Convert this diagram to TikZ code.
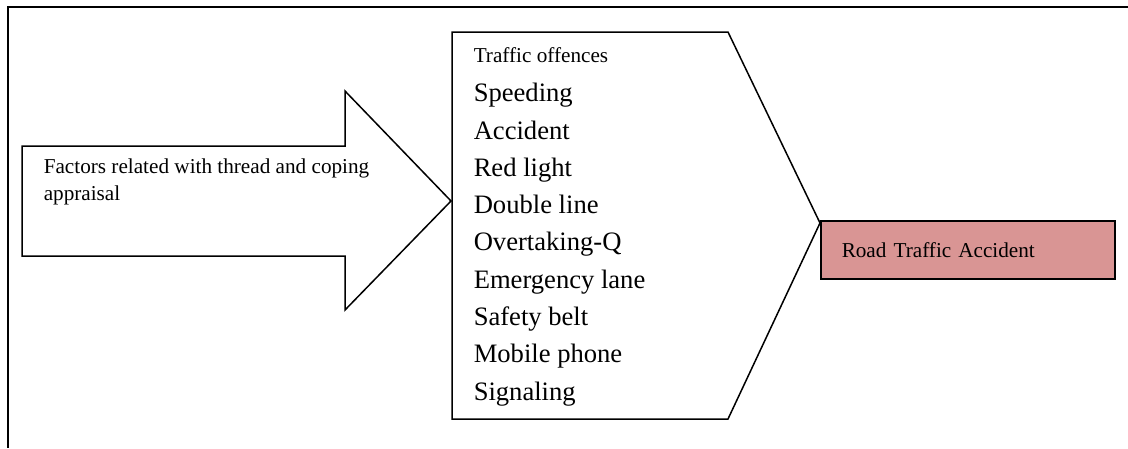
\documentclass[tikz,border=0pt]{standalone}
\usepackage{fontspec}
\setmainfont{Liberation Serif}
\usetikzlibrary{positioning}

\definecolor{accpink}{RGB}{217,149,148}

\begin{document}
\begin{tikzpicture}[x=1pt, y=-1pt, line width=1.5pt,
    smalltext/.style={font=\fontsize{21.2}{27}\selectfont, inner sep=0pt},
    bigtext/.style={font=\fontsize{26.6}{37.3}\selectfont, inner sep=0pt},
    accbox/.style={draw, fill=accpink, anchor=north west, minimum height=58pt,
      inner xsep=21pt, text width=252pt, align=left}]
  \useasboundingbox (0,0) rectangle (1128,448);

  %% Outer frame (only top and left edges show)
  \draw[line width=2pt] (1128,7) -- (8,7) -- (8,448);

  %% Block arrow on the left
  \draw (22,146) -- (345,146) -- (345,91) -- (451,201) -- (345,310)
    -- (345,256) -- (22,256) -- cycle;
  \node[smalltext, anchor=base west] (factors) at (43,173)
    {Factors related with thread and coping};
  \node[smalltext, anchor=base west] (appraisal) at (43,200) {appraisal};

  %% Chevron with the list of offences
  \draw (452,32) -- (728,32) -- (820,223) -- (728,419) -- (452,419) -- cycle;
  \node[smalltext, anchor=base west] (offtitle) at (473,62.7) {Traffic offences};
  \foreach \item [count=\i] in {Speeding, Accident, Red light, Double line,
      Overtaking-Q, Emergency lane, Safety belt, Mobile phone, Signaling}
    \node[bigtext, anchor=base west] (off\i) at (473,{101.7+37.3*(\i-1)}) {\item};

  %% Outcome box
  \node[accbox, smalltext, inner xsep=21pt] (rta) at (820,220) {Road Traffic Accident};
\end{tikzpicture}
\end{document}
